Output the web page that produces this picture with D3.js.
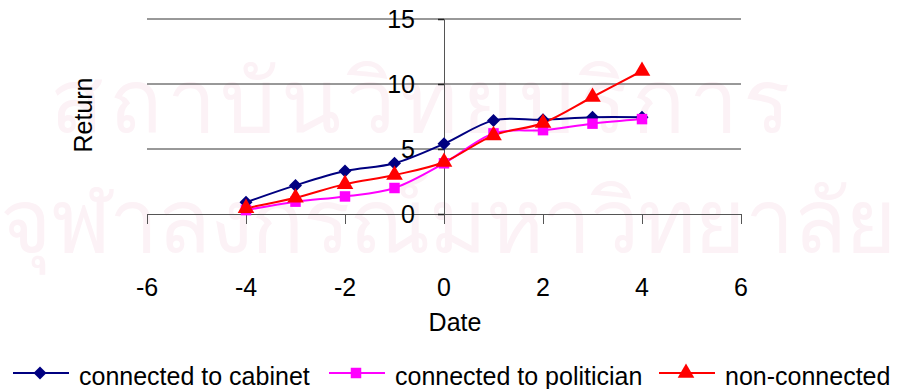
<!DOCTYPE html>
<html>
<head>
<meta charset="utf-8">
<script src="https://cdn.jsdelivr.net/npm/d3@7"></script>
<style>
  body { margin: 0; background: #fff; }
  text { font-family: "Liberation Sans", Arial, sans-serif; }
</style>
</head>
<body>
<div id="chart"></div>
<script>
var svgWidth = 897;
var svgHeight = 389;

// data
var dates = [-4, -3, -2, -1, 0, 1, 2, 3, 4];
var cabinet = [0.9, 2.2, 3.3, 3.9, 5.4, 7.2, 7.25, 7.45, 7.45];
var politician = [0.3, 0.95, 1.35, 2.0, 3.9, 6.2, 6.45, 6.95, 7.3];
var nonConnected = [0.45, 1.25, 2.3, 3.0, 4.0, 6.05, 7.0, 9.0, 11.0];
var seriesNames = ["connected to cabinet", "connected to politician", "non-connected"];
var xTicks = [-6, -4, -2, 0, 2, 4, 6];
var yTicks = [0, 5, 10, 15];
var watermark = ["สถาบันวิทยบริการ", "จุฬาลงกรณ์มหาวิทยาลัย"];

var colors = ["#000080", "#ff00ff", "#ff0000"];
var symbols = [d3.symbolSquare, d3.symbolSquare, d3.symbolTriangle];
var symSizes = [85, 110, 120];
var symRotate = [45, 0, 0];

var svg = d3.select("#chart")
  .append("svg")
  .attr("width", svgWidth)
  .attr("height", svgHeight);

// faint watermark behind the chart
svg.append("text")
  .attr("x", 420).attr("y", 132)
  .attr("text-anchor", "middle")
  .style("font-size", "88px")
  .style("fill", "#fcf2f6")
  .attr("textLength", 740)
  .text(watermark[0]);
svg.append("text")
  .attr("x", 448).attr("y", 252)
  .attr("text-anchor", "middle")
  .style("font-size", "88px")
  .style("fill", "#fcf2f6")
  .attr("textLength", 897)
  .text(watermark[1]);

var x = d3.scaleLinear().domain([-6, 6]).range([147, 741]);
var y = d3.scaleLinear().domain([0, 15]).range([214, 19]);

// gridlines
svg.append("g")
  .selectAll("line")
  .data(yTicks.filter(d => d > 0))
  .enter()
  .append("line")
  .attr("x1", x(-6)).attr("x2", x(6))
  .attr("y1", d => y(d)).attr("y2", d => y(d))
  .attr("stroke", "#333").attr("stroke-width", 1);

// x axis
var xAxis = svg.append("g")
  .attr("transform", `translate(0,${y(0)})`)
  .call(d3.axisBottom(x).tickValues(xTicks).tickSize(10).tickFormat(""));
xAxis.select(".domain").attr("stroke", "#555");
xAxis.selectAll(".tick line").attr("stroke", "#555");

svg.append("g")
  .selectAll("text")
  .data(xTicks)
  .enter()
  .append("text")
  .attr("x", d => x(d))
  .attr("y", 296)
  .attr("text-anchor", "middle")
  .style("font-size", "25px")
  .text(d => d);

// y axis at x = 0
var yAxis = svg.append("g")
  .attr("transform", `translate(${x(0)},0)`)
  .call(d3.axisLeft(y).tickValues(yTicks).tickSize(6).tickFormat(""));
yAxis.select(".domain").attr("stroke", "#555");
yAxis.selectAll(".tick line").attr("stroke", "#222").attr("stroke-width", 1.5);

svg.append("g")
  .selectAll("text")
  .data(yTicks)
  .enter()
  .append("text")
  .attr("x", 415)
  .attr("y", d => y(d) + 9)
  .attr("text-anchor", "end")
  .style("font-size", "25px")
  .text(d => d);

// axis titles
svg.append("text")
  .attr("transform", "translate(92,115) rotate(-90)")
  .attr("text-anchor", "middle")
  .style("font-size", "25px")
  .text("Return");

svg.append("text")
  .attr("x", 455).attr("y", 331)
  .attr("text-anchor", "middle")
  .style("font-size", "25px")
  .text("Date");

// series
var allSeries = [cabinet, politician, nonConnected];
var line = d3.line()
  .x((d, i) => x(dates[i]))
  .y(d => y(d))
  .curve(d3.curveCardinal.tension(0));

allSeries.forEach(function(vals, s) {
  svg.append("path")
    .datum(vals)
    .attr("d", line)
    .attr("fill", "none")
    .attr("stroke", colors[s])
    .attr("stroke-width", 2);
});

allSeries.forEach(function(vals, s) {
  svg.append("g")
    .selectAll("path")
    .data(vals)
    .enter()
    .append("path")
    .attr("transform", (d, i) => `translate(${x(dates[i])},${y(d)}) rotate(${symRotate[s]})`)
    .attr("d", d3.symbol().type(symbols[s]).size(symSizes[s]))
    .attr("fill", colors[s]);
});

// legend
var legendX = [13, 329, 659];
var legend = svg.append("g");
seriesNames.forEach(function(name, s) {
  var g = legend.append("g").attr("transform", `translate(${legendX[s]},373)`);
  g.append("line")
    .attr("x1", 0).attr("x2", 56)
    .attr("stroke", colors[s]).attr("stroke-width", 2);
  g.append("path")
    .attr("transform", `translate(27,0) rotate(${symRotate[s]})`)
    .attr("d", d3.symbol().type(symbols[s]).size(symSizes[s]))
    .attr("fill", colors[s]);
  g.append("text")
    .attr("x", 66).attr("y", 12)
    .style("font-size", "25px")
    .text(name);
});
</script>
</body>
</html>
